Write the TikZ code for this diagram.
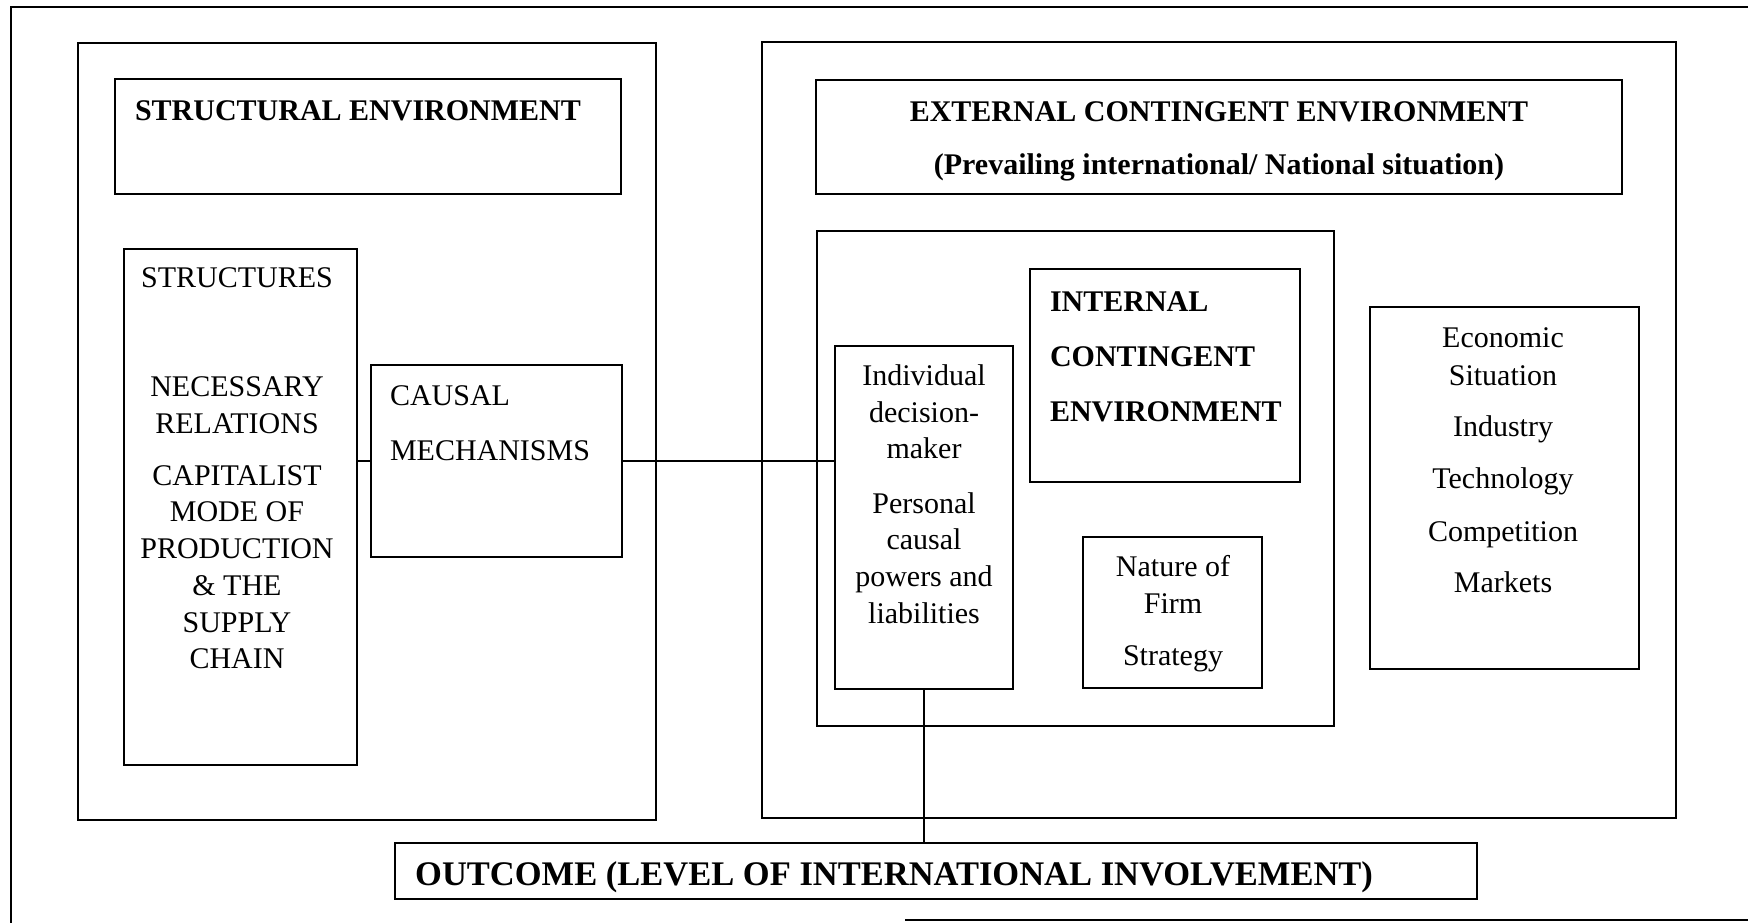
\documentclass[tikz,border=0pt]{standalone}
\usepackage{fontspec}
\setmainfont{Liberation Serif}
\begin{document}
\begin{tikzpicture}[x=1pt,y=-1pt,
  box/.style={draw, line width=1.8pt, inner sep=0pt, outer sep=0pt},
  txt/.style={inner sep=0pt, outer sep=0pt, font=\fontsize{30}{36.7}\selectfont},
  btxt/.style={inner sep=0pt, outer sep=0pt, font=\fontsize{30}{36.7}\selectfont\bfseries},
  link/.style={line width=1.6pt}]
\useasboundingbox (0,0) rectangle (1748,922);

% page frame (open on the right, bottom rule only on the right part)
\draw[line width=1.8pt] (1750,7) -- (11,7) -- (11,924);
\draw[line width=1.8pt] (905,920) -- (1750,920);

% ---- structural side ----
\node[box, minimum width=578pt, minimum height=777pt] (leftenv) at (367,431.5) {};
\node[box, minimum width=506pt, minimum height=115pt] (structenv) at (368,136.5) {};
\node[btxt, anchor=west] (structenvtxt) at (135,111) {STRUCTURAL ENVIRONMENT};

\node[box, minimum width=233pt, minimum height=516pt] (structs) at (240.5,507) {};
\node[txt] (structstitle) at (237,278) {STRUCTURES};
\node[txt, align=center] (structstxt) at (237,523)
  {NECESSARY\\RELATIONS\\[15pt]CAPITALIST\\MODE OF\\PRODUCTION\\\& THE\\SUPPLY\\CHAIN};

\node[box, minimum width=251pt, minimum height=192pt] (causal) at (496.5,461) {};
\node[txt, align=left, anchor=west] (causaltxt) at (390,423.5) {CAUSAL\\[18.3pt]MECHANISMS};

% ---- contingent side ----
\node[box, minimum width=914pt, minimum height=776pt] (rightenv) at (1219,430) {};
\node[box, minimum width=806pt, minimum height=114pt] (extenv) at (1219,137) {};
\node[btxt, align=center] (extenvtxt) at (1219,141)
  {EXTERNAL CONTINGENT ENVIRONMENT\\[16.3pt](Prevailing international/ National situation)};

\node[box, minimum width=517pt, minimum height=495pt] (firm) at (1075.5,478.5) {};
\node[box, minimum width=270pt, minimum height=213pt] (intenv) at (1165,375.5) {};
\node[btxt, align=left, anchor=west] (intenvtxt) at (1050,356.5)
  {INTERNAL\\[18.3pt]CONTINGENT\\[18.3pt]ENVIRONMENT};

\node[box, minimum width=178pt, minimum height=343pt] (indiv) at (924,517.5) {};
\node[txt, align=center] (indivtxt) at (924,494)
  {Individual\\decision-\\maker\\[17.5pt]Personal\\causal\\powers and\\liabilities};

\node[box, minimum width=179pt, minimum height=151pt] (nature) at (1172.5,612.5) {};
\node[txt, align=center] (naturetxt) at (1173,613.5) {Nature of\\Firm\\[15.5pt]Strategy};

\node[box, minimum width=269pt, minimum height=362pt] (econ) at (1504.5,488) {};
\node[txt, align=center] (econtxt) at (1503,460.5)
  {Economic\\[1.3pt]Situation\\[14.3pt]Industry\\[15.3pt]Technology\\[16.3pt]Competition\\[14.3pt]Markets};

% ---- outcome ----
\node[box, minimum width=1082pt, minimum height=56pt] (outcome) at (936,871) {};
\node[inner sep=0pt, anchor=west, font=\fontsize{34.5}{40}\selectfont\bfseries] (outcometxt) at (415,877)
  {OUTCOME (LEVEL OF INTERNATIONAL INVOLVEMENT)};

% ---- connectors ----
\draw[link] (causal.west) -- (causal.west -| structs.east);
\draw[link] (causal.east) -- (causal.east -| indiv.west);
\draw[link] (indiv.south) -- (indiv.south |- outcome.north);
\end{tikzpicture}
\end{document}
